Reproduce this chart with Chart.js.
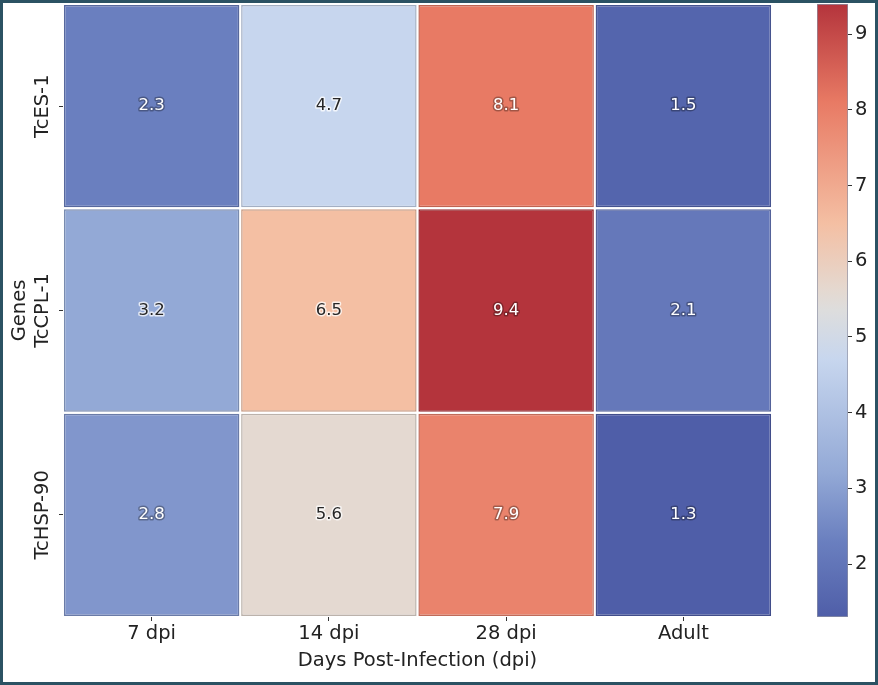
<!DOCTYPE html>
<html>
<head>
<meta charset="utf-8">
<script src="https://cdn.jsdelivr.net/npm/chart.js@4.4.0/dist/chart.umd.min.js"></script>
<style>
html, body { margin: 0; padding: 0; background: #fff; }
#wrap { position: relative; width: 878px; height: 685px; overflow: hidden; background: #fff; }
#heat { position: absolute; left: 0; top: 0; }
#cbar { position: absolute; left: 790px; top: 0; }
#frame { position: absolute; left: 0; top: 0; width: 878px; height: 685px; box-sizing: border-box;
         border: 3px solid #2b5263; pointer-events: none; }
</style>
</head>
<body>
<div id="wrap">
  <canvas id="heat" width="800" height="685"></canvas>
  <canvas id="cbar" width="88" height="685"></canvas>
  <div id="frame"></div>
</div>
<script>
// data
const days = ['7 dpi', '14 dpi', '28 dpi', 'Adult'];
const genes = ['TcES-1', 'TcCPL-1', 'TcHSP-90'];
const esValues = [2.3, 4.7, 8.1, 1.5];
const cplValues = [3.2, 6.5, 9.4, 2.1];
const hspValues = [2.8, 5.6, 7.9, 1.3];
const colorbarTicks = [2, 3, 4, 5, 6, 7, 8, 9];
const vmin = 1.3, vmax = 9.4;

const rows = [esValues, cplValues, hspValues];
const FONT = "'DejaVu Sans', sans-serif";
const TEXT = '#222';

// muted coolwarm, as it shows in the picture: [position, r, g, b]
const palette = [
    [0.000, 79, 94, 168],
    [0.123, 106, 127, 191],
    [0.235, 147, 169, 214],
    [0.420, 199, 214, 238],
    [0.500, 221, 221, 221],
    [0.531, 228, 217, 209],
    [0.642, 244, 191, 163],
    [0.840, 232, 122, 100],
    [1.000, 180, 52, 60]
];

function cmap(t) {
    t = Math.max(0, Math.min(1, t));
    let i = 0;
    while (i < palette.length - 2 && t > palette[i + 1][0]) i++;
    const a = palette[i], b = palette[i + 1];
    const f = (t - a[0]) / (b[0] - a[0]);
    return [1, 2, 3].map(k => Math.round(a[k] + (b[k] - a[k]) * f));
}
const norm = v => (v - vmin) / (vmax - vmin);
const rgbStr = rgb => `rgb(${rgb.join(',')})`;
const cellColor = v => rgbStr(cmap(norm(v)));
const edgeColor = v => rgbStr(cmap(norm(v)).map(c => Math.round(c * 0.82)));

// dark text on light cells, like seaborn does
function isLight(v) {
    const t = norm(v);
    return t > 0.22 && t < 0.7;
}

// value labels inside the cells
const cellLabels = {
    id: 'cellLabels',
    afterDatasetsDraw(chart) {
        const ctx = chart.ctx;
        ctx.save();
        ctx.font = `16.5px ${FONT}`;
        ctx.textAlign = 'center';
        ctx.textBaseline = 'middle';
        ctx.lineJoin = 'round';
        chart.data.datasets.forEach((ds, di) => {
            chart.getDatasetMeta(di).data.forEach((bar, i) => {
                const v = ds.values[i];
                const dark = isLight(v);
                const x = bar.x, y = (bar.y + bar.base) / 2;
                const s = v.toFixed(1);
                ctx.lineWidth = 3;
                ctx.strokeStyle = dark ? 'rgba(255,255,255,0.75)' : 'rgba(0,0,0,0.3)';
                ctx.strokeText(s, x, y);
                ctx.fillStyle = dark ? '#262626' : '#fff';
                ctx.fillText(s, x, y);
            });
        });
        ctx.restore();
    }
};

// rotated gene labels on the y axis
const geneLabels = {
    id: 'geneLabels',
    afterDraw(chart) {
        const ctx = chart.ctx;
        const ys = chart.scales.y;
        ctx.save();
        ctx.font = `19.5px ${FONT}`;
        ctx.fillStyle = TEXT;
        ctx.textAlign = 'center';
        ctx.textBaseline = 'middle';
        genes.forEach((g, r) => {
            ctx.save();
            ctx.translate(43, ys.getPixelForValue(r + 0.5));
            ctx.rotate(-Math.PI / 2);
            ctx.fillText(g, 0, 0);
            ctx.restore();
        });
        ctx.restore();
    }
};

new Chart(document.getElementById('heat'), {
    type: 'bar',
    data: {
        labels: days,
        datasets: rows.map((vals, r) => ({
            label: genes[r],
            data: vals.map(() => [r + 0.005, r + 0.995]),
            values: vals,
            backgroundColor: vals.map(cellColor),
            borderColor: vals.map(edgeColor),
            borderWidth: 1.5,
            borderSkipped: false,
            barPercentage: 0.99,
            categoryPercentage: 1,
            grouped: false
        }))
    },
    options: {
        responsive: false,
        animation: false,
        layout: { padding: { left: 0, top: 4, right: 28, bottom: 0 } },
        plugins: { legend: { display: false }, tooltip: { enabled: false } },
        scales: {
            x: {
                grid: { offset: false, drawOnChartArea: false, tickLength: 4, color: '#333', tickWidth: 1 },
                border: { display: false },
                ticks: { font: { family: FONT, size: 19.5 }, color: TEXT, padding: 1, maxRotation: 0 },
                title: { display: true, text: 'Days Post-Infection (dpi)', font: { family: FONT, size: 19.5 },
                         color: TEXT, padding: { top: 0, bottom: 12 } },
                afterFit: s => { s.height = 68; }
            },
            y: {
                type: 'linear',
                min: 0, max: 3,
                reverse: true,
                afterBuildTicks: s => { s.ticks = genes.map((g, r) => ({ value: r + 0.5 })); },
                grid: { drawOnChartArea: false, tickLength: 4, color: '#333' },
                border: { display: false },
                ticks: { display: false },
                title: { display: true, text: 'Genes', font: { family: FONT, size: 19.5 },
                         color: TEXT, padding: { top: 8, bottom: 0 } },
                afterFit: s => { s.width = 63; }
            }
        }
    },
    plugins: [cellLabels, geneLabels]
});

// colorbar
function gradientFill(ctx) {
    const chart = ctx.chart;
    const ys = chart.scales.y;
    if (!chart.chartArea || !ys) return cellColor(vmin);
    const g = chart.ctx.createLinearGradient(0, ys.getPixelForValue(vmin), 0, ys.getPixelForValue(vmax));
    palette.forEach(p => g.addColorStop(p[0], rgbStr(p.slice(1))));
    return g;
}

new Chart(document.getElementById('cbar'), {
    type: 'bar',
    data: {
        labels: ['scale'],
        datasets: [{
            data: [[vmin, vmax]],
            backgroundColor: gradientFill,
            borderColor: 'rgba(50,55,90,0.55)',
            borderWidth: 1,
            borderSkipped: false,
            barPercentage: 1,
            categoryPercentage: 1
        }]
    },
    options: {
        responsive: false,
        animation: false,
        layout: { padding: { left: 27, top: 4, right: 0, bottom: 68 } },
        plugins: { legend: { display: false }, tooltip: { enabled: false } },
        scales: {
            x: { display: false },
            y: {
                position: 'right',
                min: vmin, max: vmax,
                afterBuildTicks: s => { s.ticks = colorbarTicks.map(v => ({ value: v })); },
                grid: { drawOnChartArea: false, tickLength: 4, color: '#333' },
                border: { display: false },
                ticks: { font: { family: FONT, size: 19.5 }, color: TEXT, padding: 3 },
                afterFit: s => { s.width = 30; s.paddingTop = 0; s.paddingBottom = 0; }
            }
        }
    }
});
</script>
</body>
</html>
